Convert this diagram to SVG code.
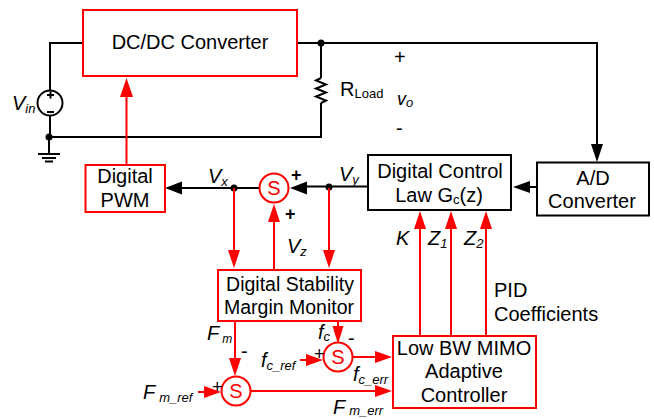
<svg xmlns="http://www.w3.org/2000/svg" width="654" height="419" viewBox="0 0 654 419">
<defs>
<style>
text{font-family:"Liberation Sans",Arial,sans-serif;fill:#000;font-size:20px}
.c{text-anchor:middle}
.i{font-style:italic}
.sub{font-size:13px}
.rb{fill:#fff;stroke:#f00;stroke-width:2}
.bb{fill:#fff;stroke:#000;stroke-width:2}
.bw{fill:none;stroke:#000;stroke-width:2}
.rw{fill:none;stroke:#f00;stroke-width:2}
.s{fill:#fff;stroke:#f00;stroke-width:2}
.st{fill:#f00;font-size:20px;text-anchor:middle}
.dot{fill:#000}
.ra{fill:#f00}
.ba{fill:#000}
</style>
</defs>
<g id="connectors">
<path class="bw" d="M83 43H50V90M50 116V137M49 137V154M49 137H321V103M321 78V43M297 43H597V145"/>
<path class="bw" d="M321 78l-5 2.500 10 4-10 4 10 4-10 4 10 4-5 2.500"/>
<path class="bw" d="M38 154H60M42 158H56M45 161.500H53" stroke-width="1.500"/>
<circle class="dot" cx="49" cy="137" r="3.500"/>
<circle class="dot" cx="321" cy="43" r="3.500"/>
<path class="ba" d="M597 162l-6-18h12z"/>
<path class="bw" d="M537 187H525"/>
<path class="ba" d="M513 187l17-6v12z"/>
<path class="bw" d="M368 186.500H304M259 188H180"/>
<path class="ba" d="M290 188l17-6.500v13z"/>
<path class="ba" d="M165 188l17-6.500v13z"/>
<circle class="dot" cx="234" cy="188" r="3.500"/>
<circle class="dot" cx="329" cy="187" r="3.500"/>
<path class="rw" d="M126.500 165V95"/>
<path class="ra" d="M126.500 78l6.500 19h-13z"/>
<path class="rw" d="M234 188V252"/>
<path class="ra" d="M234 268l-6-18h12z"/>
<path class="rw" d="M329 188V252"/>
<path class="ra" d="M329 268l-6-18h12z"/>
<path class="rw" d="M274 270V220"/>
<path class="ra" d="M274 204l6 18h-12z"/>
<path class="rw" d="M235 321V360"/>
<path class="ra" d="M235 376l-6-18h12z"/>
<path class="rw" d="M338 321V330"/>
<path class="ra" d="M338 344l-5.500-18h11z"/>
<path class="rw" d="M353 357H378M251 391H378M300 360H310M198 392H208"/>
<path class="ra" d="M392 357l-17-6v12z"/>
<path class="ra" d="M392 391l-17-6v12z"/>
<path class="ra" d="M323 360l-17-6v12z"/>
<path class="ra" d="M221 392l-17-6v12z"/>
<path class="rw" d="M420 336V225M451 336V225M486 336V225"/>
<path class="ra" d="M420 211l6 18h-12z"/>
<path class="ra" d="M451 211l6 18h-12z"/>
<path class="ra" d="M486 211l6 18h-12z"/>
</g>
<g id="dcdc"><rect class="rb" x="83" y="10" width="214" height="66"/><text class="c" x="190" y="49">DC/DC Converter</text></g>
<g id="vin"><circle cx="50" cy="103" r="12.500" fill="#fff" stroke="#000" stroke-width="2"/><path class="bw" d="M47 95H54M50.500 91.500V98.500M47 112H54" stroke-width="1.500"/><text class="i" x="12" y="110">V<tspan class="sub" dy="3">in</tspan></text></g>
<g id="rload"><text x="340" y="96">R<tspan class="sub" dy="2">Load</tspan></text></g>
<g id="vo"><text x="394" y="64">+</text><text class="i" x="397" y="105" style="font-size:18px">v<tspan class="sub" dy="2">o</tspan></text><text x="396" y="135">-</text></g>
<g id="pwm"><rect class="rb" x="85.500" y="165" width="79.500" height="47"/><text class="c" x="125" y="183">Digital</text><text class="c" x="125" y="207">PWM</text></g>
<g id="law"><rect class="bb" x="368" y="155" width="143" height="55"/><text class="c" x="440" y="178">Digital Control</text><text class="c" x="439" y="202">Law G<tspan class="sub" dy="2">c</tspan><tspan dy="-2">(z)</tspan></text></g>
<g id="adc"><rect class="bb" x="537" y="162.500" width="112" height="53"/><text class="c" x="593" y="185">A/D</text><text class="c" x="592" y="208">Converter</text></g>
<g id="sum1"><circle class="s" cx="274" cy="188" r="14.500"/><text class="st" x="274" y="195">S</text></g>
<g id="sum1-labels"><text x="291" y="181" style="font-weight:bold;font-size:18px">+</text><text x="285" y="220" style="font-weight:bold;font-size:18px">+</text><text class="i" x="208" y="183">V<tspan class="sub" dy="3">x</tspan></text><text class="i" x="339" y="181">V<tspan class="sub" dy="3">y</tspan></text><text class="i" x="287" y="253">V<tspan class="sub" dy="3">z</tspan></text></g>
<g id="monitor"><rect class="rb" x="218" y="270" width="143" height="51"/><text class="c" x="290" y="291" style="font-size:19.5px">Digital Stability</text><text class="c" x="289" y="314" style="font-size:19.5px">Margin Monitor</text></g>
<g id="sum2"><circle class="s" cx="338" cy="357" r="14.500"/><text class="st" x="338" y="364">S</text></g>
<g id="sum3"><circle class="s" cx="236" cy="391" r="14.500"/><text class="st" x="236" y="398">S</text></g>
<g id="controller"><rect class="rb" x="393" y="336" width="143" height="72"/><text class="c" x="464" y="355">Low BW MIMO</text><text class="c" x="464" y="378">Adaptive</text><text class="c" x="464" y="402">Controller</text></g>
<g id="labels">
<text class="i" x="207" y="340">F<tspan class="sub" dx="3" dy="3" style="font-size:12px">m</tspan></text>
<text x="241" y="358">-</text>
<text class="i" x="318" y="339">f<tspan class="sub" dy="2">c</tspan></text>
<text x="348" y="345">-</text>
<text x="314" y="360" style="font-size:18px">+</text>
<text x="212" y="393" style="font-size:18px">+</text>
<text class="i" x="261" y="367">f<tspan class="sub" dy="3">c_ref</tspan></text>
<text class="i" x="353" y="381">f<tspan class="sub" dy="3">c_err</tspan></text>
<text class="i" x="143" y="399">F<tspan class="sub" dx="4" dy="3">m_ref</tspan></text>
<text class="i" x="333" y="414">F<tspan class="sub" dx="4" dy="1">m_err</tspan></text>
<text class="i" x="396" y="245">K</text>
<text class="i" x="428" y="245">Z<tspan class="sub" dy="3">1</tspan></text>
<text class="i" x="464" y="245">Z<tspan class="sub" dy="3">2</tspan></text>
<text x="494" y="297">PID</text>
<text x="494" y="321">Coefficients</text>
</g>
</svg>
